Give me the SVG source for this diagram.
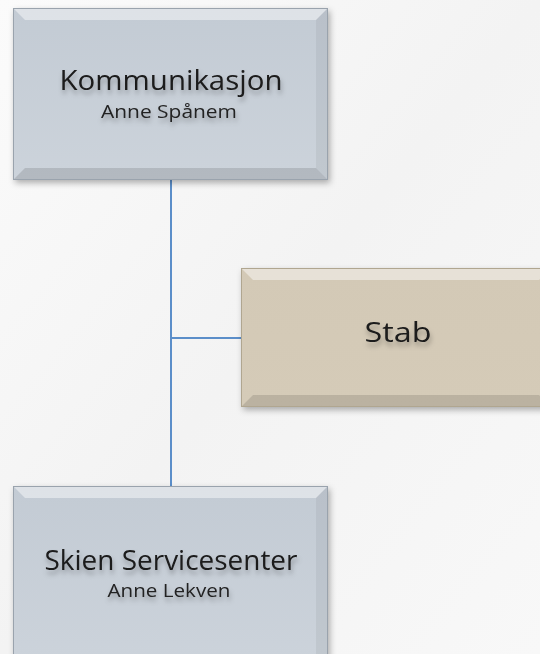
<svg xmlns="http://www.w3.org/2000/svg" width="540" height="654" viewBox="0 0 540 654">
<defs>
<filter id="bs" x="-10%" y="-10%" width="130%" height="130%"><feDropShadow dx="2" dy="3" stdDeviation="3" flood-color="#000" flood-opacity="0.3"/></filter>
<filter id="ts" x="-10%" y="-40%" width="120%" height="200%"><feDropShadow dx="1" dy="4" stdDeviation="2.5" flood-color="#000" flood-opacity="0.3"/></filter>
<linearGradient id="bg" x1="0" y1="0" x2="1" y2="1"><stop offset="0" stop-color="#fbfbfb"/><stop offset="0.5" stop-color="#f3f3f3"/><stop offset="1" stop-color="#f8f8f8"/></linearGradient>
<linearGradient id="blue" x1="0" y1="0" x2="0" y2="1"><stop offset="0" stop-color="#c3cbd4"/><stop offset="1" stop-color="#ccd3db"/></linearGradient>
<linearGradient id="tan" x1="0" y1="0" x2="0" y2="1"><stop offset="0" stop-color="#d3c9b6"/><stop offset="1" stop-color="#d5cbb8"/></linearGradient>
</defs>
<style>
.t{font-family:"Open Sans","DejaVu Sans",sans-serif;fill:#1a1a1a;text-anchor:middle;filter:url(#ts)}
.big{font-size:27px}
.sm{font-size:19px;fill:#222}
.hl{fill:#ffffff;opacity:0.45}
.sh{fill:#000;opacity:0.12}
.sd{fill:#000;opacity:0.05}
.edge{fill:none;stroke:#9aa3ad;stroke-width:1}
.conn{stroke:#5b8ec9;stroke-width:2;fill:none}
</style>
<rect width="540" height="654" fill="url(#bg)"/>
<g id="connectors">
<line class="conn" x1="171" y1="180" x2="171" y2="488"/>
<line class="conn" x1="171" y1="338" x2="241" y2="338" stroke="#5b7fa3"/>
</g>
<g id="kommunikasjon">
<rect x="13" y="8" width="315" height="172" fill="url(#blue)" filter="url(#bs)"/>
<polygon class="hl" points="13,8 328,8 316,20 25,20"/>
<polygon class="sh" points="13,180 328,180 316,168 25,168"/>
<polygon class="sd" points="328,8 328,180 316,168 316,20"/>
<rect class="edge" x="13.5" y="8.5" width="314" height="171"/>
<text class="t big" x="171" y="90" textLength="223" lengthAdjust="spacingAndGlyphs">Kommunikasjon</text>
<text class="t sm" x="169" y="118" textLength="136" lengthAdjust="spacingAndGlyphs">Anne Spånem</text>
</g>
<g id="stab">
<rect x="241" y="268" width="310" height="139" fill="url(#tan)" filter="url(#bs)"/>
<polygon class="hl" points="241,268 551,268 539,280 253,280"/>
<polygon class="sh" points="241,407 551,407 539,395 253,395"/>
<rect x="241.5" y="268.5" width="320" height="138" fill="none" stroke="#b0a690"/>
<text class="t big" x="398" y="342" textLength="67" lengthAdjust="spacingAndGlyphs">Stab</text>
</g>
<g id="skien">
<rect x="13" y="486" width="315" height="180" fill="url(#blue)" filter="url(#bs)"/>
<polygon class="hl" points="13,486 328,486 316,498 25,498"/>
<polygon class="sd" points="328,486 328,666 316,654 316,498"/>
<rect class="edge" x="13.5" y="486.5" width="314" height="180"/>
<text class="t big" x="171" y="570" textLength="253" lengthAdjust="spacingAndGlyphs">Skien Servicesenter</text>
<text class="t sm" x="169" y="597" textLength="123" lengthAdjust="spacingAndGlyphs">Anne Lekven</text>
</g>
</svg>
